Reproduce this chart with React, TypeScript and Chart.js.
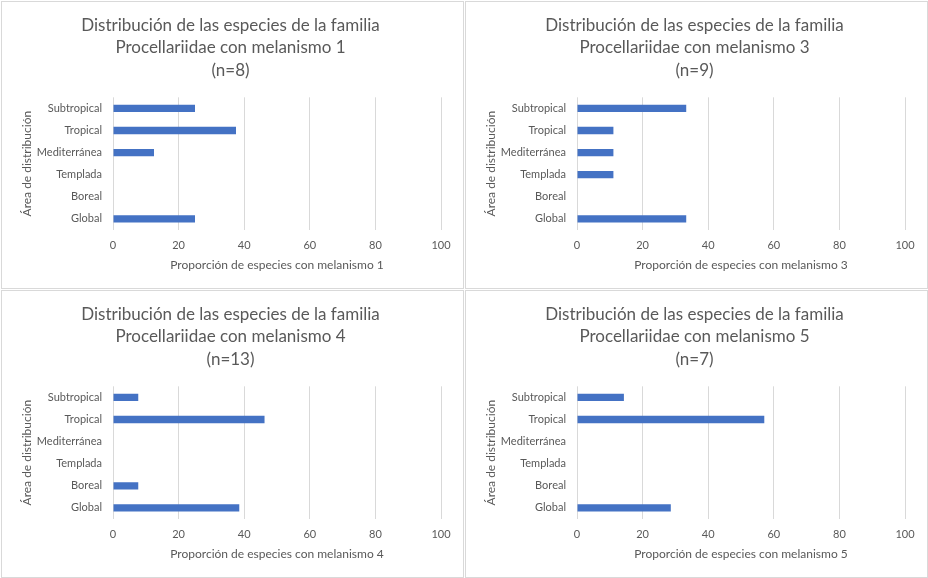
import React, { useEffect, useRef } from "react";
import { Chart, registerables } from "chart.js";

Chart.register(...registerables);

const categories = ["Subtropical", "Tropical", "Mediterránea", "Templada", "Boreal", "Global"];
const values1 = [25, 37.5, 12.5, 0, 0, 25];
const values3 = [33.3, 11.1, 11.1, 11.1, 0, 33.3];
const values4 = [7.7, 46.2, 0, 0, 7.7, 38.5];
const values5 = [14.3, 57.1, 0, 0, 0, 28.6];
const melanismLevels = ["1", "3", "4", "5"];
const sampleSizes = [8, 9, 13, 7];
const xMin = 0;
const xMax = 100;
const xStep = 20;

const seriesList = [values1, values3, values4, values5];

const TEXT = "#595959";
const GRID = "#d9d9d9";
const BAR = "#4472C4";
const FONT = "Lato, 'Open Sans', sans-serif";

function Panel({ idx, left, top }: { idx: number; left: number; top: number }) {
  const ref = useRef<HTMLCanvasElement | null>(null);
  useEffect(() => {
    if (!ref.current) return;
    const level = melanismLevels[idx];
    const chart = new Chart(ref.current, {
      type: "bar",
      data: {
        labels: categories,
        datasets: [
          {
            data: seriesList[idx],
            backgroundColor: BAR,
            borderWidth: 0,
            barPercentage: 0.33,
            categoryPercentage: 1,
          },
        ],
      },
      options: {
        indexAxis: "y",
        animation: false,
        responsive: false,
        maintainAspectRatio: false,
        layout: { padding: { left: 18, right: 22, top: 0, bottom: 16 } },
        plugins: {
          legend: { display: false },
          tooltip: { enabled: false },
          title: {
            display: true,
            text: [
              "Distribución de las especies de la familia",
              `Procellariidae con melanismo ${level}`,
              `(n=${sampleSizes[idx]})`,
            ],
            color: TEXT,
            font: { family: FONT, size: 17, weight: "normal", lineHeight: 1.32 },
            padding: { top: 12, bottom: 16 },
          },
        },
        scales: {
          x: {
            type: "linear",
            min: xMin,
            max: xMax,
            ticks: {
              stepSize: xStep,
              color: TEXT,
              padding: 9,
              font: { family: FONT, size: 11 },
            },
            grid: { color: GRID, drawTicks: false, lineWidth: 1 },
            border: { display: false },
            title: {
              display: true,
              text: `Proporción de especies con melanismo ${level}`,
              color: TEXT,
              font: { family: FONT, size: 12 },
              padding: 0,
            },
            afterFit: (scale: any) => {
              scale.height = 42;
            },
          },
          y: {
            type: "category",
            ticks: {
              color: TEXT,
              padding: 11,
              font: { family: FONT, size: 11 },
            },
            grid: { display: false, drawTicks: false },
            border: { display: false },
            title: {
              display: true,
              text: "Área de distribución",
              color: TEXT,
              font: { family: FONT, size: 12 },
              padding: 0,
            },
            afterFit: (scale: any) => {
              scale.width = 93;
            },
          },
        },
      },
    } as any);
    return () => chart.destroy();
  }, [idx]);
  return (
    <div
      style={{
        position: "absolute",
        left,
        top,
        width: 461,
        height: 286,
        border: `1px solid ${GRID}`,
        background: "#fff",
      }}
    >
      <canvas ref={ref} width={461} height={286} style={{ display: "block", width: 461, height: 286 }} />
    </div>
  );
}

export default function App() {
  return (
    <div style={{ position: "absolute", left: 0, top: 0, width: 928, height: 578, background: "#fff" }}>
      <Panel idx={0} left={1} top={1} />
      <Panel idx={1} left={465} top={1} />
      <Panel idx={2} left={1} top={290} />
      <Panel idx={3} left={465} top={290} />
    </div>
  );
}
